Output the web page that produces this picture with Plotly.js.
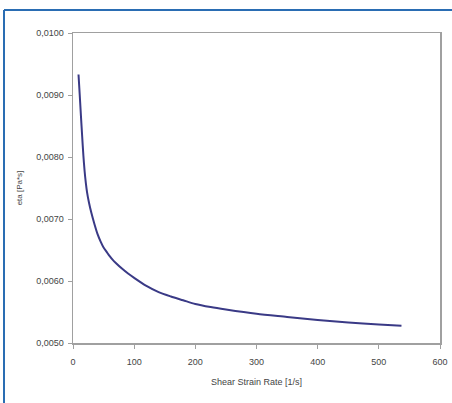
<!DOCTYPE html>
<html>
<head>
<meta charset="utf-8">
<script src="https://cdn.plot.ly/plotly-3.0.1.min.js"></script>
<style>html,body{margin:0;padding:0;background:#fff;overflow:hidden;}#chart{width:452px;height:403px;}</style>
</head>
<body>
<div id="chart"></div>
<script>
const shearRate = [9, 11, 13, 15, 17, 19, 21, 23, 26, 30, 35, 40, 45, 50, 55, 60, 65, 70, 80, 90, 100, 120, 140, 160, 180, 200, 225, 250, 300, 350, 400, 450, 500, 537];
const eta = [0.00933, 0.00900, 0.00866, 0.00833, 0.00802, 0.00777, 0.00758, 0.00743, 0.00727, 0.00710, 0.00692, 0.00676, 0.00664, 0.00654, 0.00647, 0.00640, 0.00634, 0.00629, 0.00620, 0.00612, 0.00605, 0.00592, 0.00582, 0.00575, 0.00569, 0.00563, 0.00558, 0.00554, 0.00547, 0.00542, 0.00537, 0.00533, 0.00530, 0.00528];
const xTicks = [0, 100, 200, 300, 400, 500, 600];
const yTicks = [0.005, 0.006, 0.007, 0.008, 0.009, 0.010];
const yTickText = ["0,0050", "0,0060", "0,0070", "0,0080", "0,0090", "0,0100"];

const W = 452, H = 403, L = 73, R = 12, T = 33, B = 60;
const pw = W - L - R, ph = H - T - B;
const px = v => (v - L) / pw;
const py = v => 1 - (v - T) / ph;

const font = {family: "Liberation Sans, Arial, sans-serif", size: 9, color: "#444"};

Plotly.newPlot("chart", [{
  x: shearRate, y: eta, type: "scatter", mode: "lines",
  line: {color: "#3a3a86", width: 2, shape: "spline", smoothing: 0.8}
}], {
  width: W, height: H,
  margin: {l: L, r: R, t: T, b: B},
  paper_bgcolor: "#fff", plot_bgcolor: "#fff",
  showlegend: false,
  font: font,
  xaxis: {
    range: [0, 600], tickvals: xTicks, ticktext: xTicks.map(String),
    showgrid: false, zeroline: false, showline: true, linecolor: "#a0a0a0", linewidth: 1.5,
    mirror: true, ticks: "outside", ticklen: 4, tickcolor: "#a0a0a0",
    ticklabelstandoff: 6,
    tickfont: font,
    title: {text: "Shear Strain Rate [1/s]", font: font, standoff: 12}
  },
  yaxis: {
    range: [0.005, 0.010], tickvals: yTicks, ticktext: yTickText,
    showgrid: false, zeroline: false, showline: true, linecolor: "#a0a0a0", linewidth: 1.5,
    mirror: true, ticks: "outside", ticklen: 4, tickcolor: "#a0a0a0",
    ticklabelstandoff: 2,
    tickfont: font,
    title: {text: "eta [Pa*s]", font: {family: font.family, size: 8, color: "#444"}, standoff: 12}
  },
  shapes: [
    {type: "line", xref: "paper", yref: "paper", x0: px(4), x1: px(452), y0: py(10), y1: py(10), line: {color: "#2a6db3", width: 2}},
    {type: "line", xref: "paper", yref: "paper", x0: px(4), x1: px(4), y0: py(10), y1: py(403), line: {color: "#2a6db3", width: 2}}
  ]
}, {displayModeBar: false, staticPlot: true});
</script>
</body>
</html>
